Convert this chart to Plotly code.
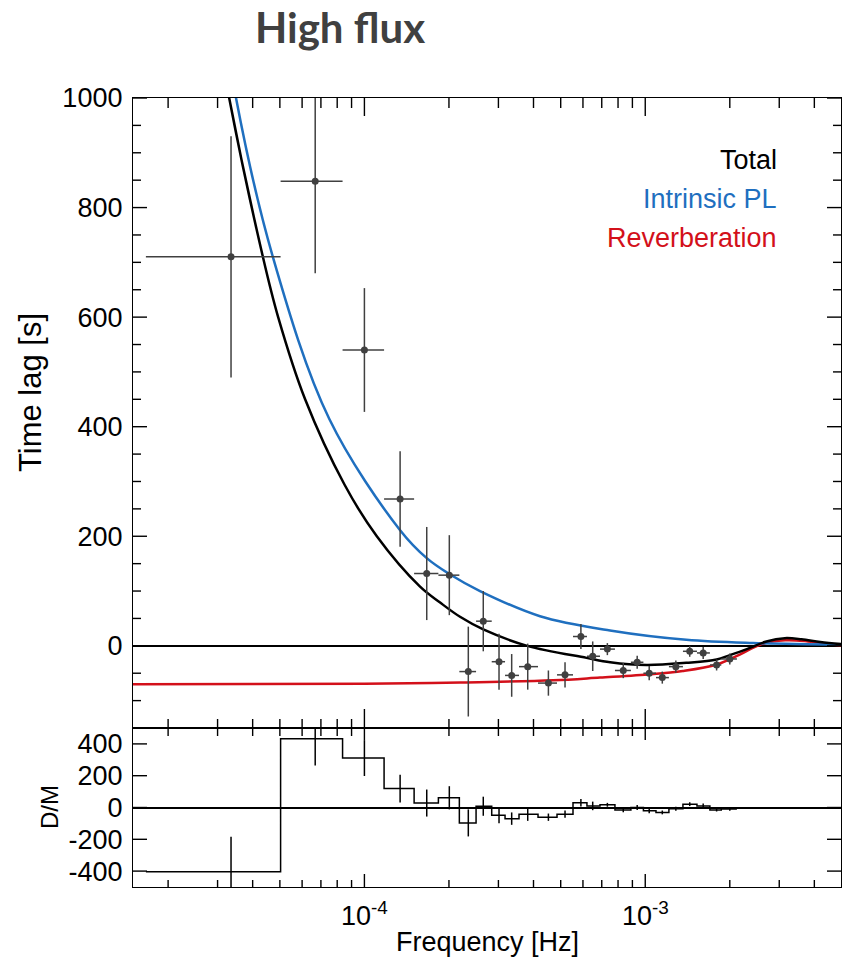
import math
import plotly.graph_objects as go

# ---- measured lag-frequency spectrum (high-flux segment) ----
freq = [3.35e-5, 6.68e-5, 1.0e-4, 1.34e-4, 1.667e-4, 2.006e-4, 2.344e-4, 2.65e-4,
        3.015e-4, 3.345e-4, 3.815e-4, 4.52e-4, 5.18e-4, 5.9e-4, 6.5e-4, 7.33e-4,
        8.35e-4, 9.36e-4, 1.033e-3, 1.15e-3, 1.285e-3, 1.44e-3, 1.608e-3, 1.795e-3, 2.0e-3]
lag = [710, 848, 540, 268, 132, 129, -47, 45, -29, -54, -38, -68, -53, 17, -19, -6,
       -45, -30, -50, -58, -38, -10, -13, -35, -24]
lag_err = [220, 168, 113, 87, 85, 73, 82, 55, 51, 39, 42, 23, 23, 23, 27, 11,
           14, 12, 13, 11, 11, 10, 11, 10, 10]
# frequency bin edges (one more than the number of points)
bin_edges = [1.667e-5, 5.03e-5, 8.36e-5, 1.175e-4, 1.503e-4, 1.834e-4, 2.178e-4, 2.498e-4,
             2.84e-4, 3.168e-4, 3.552e-4, 4.151e-4, 4.851e-4, 5.53e-4, 6.2e-4, 6.9e-4,
             7.8e-4, 8.89e-4, 9.85e-4, 1.092e-3, 1.214e-3, 1.362e-3, 1.528e-3, 1.699e-3,
             1.865e-3, 2.12e-3]

# ---- data minus model ----
resid = [-404, 432, 311, 119, 28, 61, -97, 8, -48, -70, -42, -61, -42, 30, 10, 17,
         -15, 0, -21, -31, -8, 21, 10, -15, -10]
resid_err = [220, 168, 113, 87, 85, 73, 85, 60, 51, 39, 42, 23, 23, 23, 27, 12,
             15, 15, 15, 12, 12, 12, 15, 10, 10]

# ---- model components ----
total_f = [3.0e-5, 3.3e-5, 4.35e-5, 4.93e-5, 6.15e-5, 8.5e-5, 1.107e-4, 1.578e-4, 1.86e-4,
           2.19e-4, 2.65e-4, 3.8e-4, 6.18e-4, 7.5e-4, 1.01e-3, 1.4e-3, 1.795e-3, 2.0e-3,
           2.3e-3, 2.7e-3, 3.14e-3, 3.6e-3, 4.2e-3, 5.0e-3]
total_lag = [1125, 1000, 710, 600, 450, 294, 200, 108, 79, 53, 30, 0, -22, -30, -35, -31,
             -25, -17, -6, 8, 14, 12, 7, 3]
pl_f = [3.2e-5, 3.49e-5, 4.72e-5, 7.5e-5, 1.34e-4, 1.667e-4, 2.006e-4, 2.58e-4, 4.22e-4,
        7.49e-4, 1.4e-3, 2.42e-3, 5.0e-3]
pl_lag = [1130, 1000, 710, 414, 211, 160, 131, 100, 54, 28, 11, 5, 2]
rev_f = [1.5e-5, 1.0e-4, 2.2e-4, 4.7e-4, 6.9e-4, 1.05e-3, 1.36e-3, 1.8e-3, 2.17e-3,
         2.56e-3, 3.15e-3, 3.8e-3, 5.0e-3]
rev_lag = [-70, -69, -67, -63, -58, -52, -46, -34, -16, 2, 10, 8, 0]

decade_ticks = [1e-4, 1e-3]
decade_labels = ["10<sup>-4</sup>", "10<sup>-3</sup>"]
lag_ticks = [0, 200, 400, 600, 800, 1000]
lag_minor = [-100, -50, 50, 100, 150, 250, 300, 350, 450, 500, 550, 650, 700, 750, 850, 900, 950]
dm_ticks = [-400, -200, 0, 200, 400]
dm_labels = ["-400", "-200", "0", "200", "400"]
freq_minor = [2e-5, 3e-5, 4e-5, 5e-5, 6e-5, 7e-5, 8e-5, 9e-5,
              2e-4, 3e-4, 4e-4, 5e-4, 6e-4, 7e-4, 8e-4, 9e-4,
              2e-3, 3e-3, 4e-3]

x_lo = [freq[i] - bin_edges[i] for i in range(len(freq))]
x_hi = [bin_edges[i + 1] - freq[i] for i in range(len(freq))]

SANS = "Liberation Sans, Arial, Helvetica, sans-serif"
TICK_FONT = dict(family=SANS, size=27, color="black")
DATA_COL = "#404040"
BLUE = "#1f6fbf"
RED = "#d3101a"

# plot-area geometry (pixels)
PLOT_W = 846 - 133 - 5
PLOT_H = 958 - 98 - 71
LOWER_H = 159
split = LOWER_H / PLOT_H

fig = go.Figure()

fig.add_trace(go.Scatter(x=rev_f, y=rev_lag, mode="lines", line=dict(color=RED, width=2.5, shape="spline"),
                         xaxis="x", yaxis="y", showlegend=False, hoverinfo="skip"))
fig.add_trace(go.Scatter(x=pl_f, y=pl_lag, mode="lines", line=dict(color=BLUE, width=2.5, shape="spline"),
                         xaxis="x", yaxis="y", showlegend=False, hoverinfo="skip"))
fig.add_trace(go.Scatter(x=total_f, y=total_lag, mode="lines", line=dict(color="black", width=2.5, shape="spline"),
                         xaxis="x", yaxis="y", showlegend=False, hoverinfo="skip"))

fig.add_trace(go.Scatter(
    x=freq, y=lag, mode="markers",
    marker=dict(color=DATA_COL, size=7),
    error_y=dict(type="data", array=lag_err, color=DATA_COL, thickness=1.5, width=0),
    error_x=dict(type="data", array=x_hi, arrayminus=x_lo, color=DATA_COL, thickness=1.5, width=0),
    xaxis="x", yaxis="y", showlegend=False))

# residual histogram
fig.add_trace(go.Scatter(x=bin_edges, y=resid + [resid[-1]], mode="lines",
                         line=dict(color="black", width=1.5, shape="hv"),
                         xaxis="x2", yaxis="y2", showlegend=False, hoverinfo="skip"))
fig.add_trace(go.Scatter(x=freq, y=resid, mode="markers",
                         marker=dict(size=1, color="rgba(0,0,0,0)"),
                         error_y=dict(type="data", array=resid_err, color="black", thickness=1.5, width=0),
                         xaxis="x2", yaxis="y2", showlegend=False))

xrange_log = [-4.824, -2.303]
frame = dict(showline=True, linecolor="black", linewidth=1.3, mirror=True,
             ticks="", showgrid=False)

fig.update_layout(
    width=846, height=958,
    margin=dict(l=133, r=5, t=98, b=71),
    paper_bgcolor="white", plot_bgcolor="white",
    title=dict(text="<b>High flux</b>", x=340 / 846, xref="container", xanchor="center",
               y=1 - 28 / 958, yref="container", yanchor="middle",
               font=dict(family="Lato, Open Sans, sans-serif", size=42, color="#404040")),
    xaxis=dict(frame, type="log", range=xrange_log, anchor="y", domain=[0, 1],
               tickvals=decade_ticks, showticklabels=False, zeroline=False),
    xaxis2=dict(frame, type="log", range=xrange_log, anchor="y2", domain=[0, 1],
                tickvals=decade_ticks, showticklabels=False, zeroline=False),
    yaxis=dict(frame, range=[-150, 1000], domain=[split, 1], anchor="x",
               tickmode="array", tickvals=lag_ticks, tickfont=TICK_FONT, ticklabelstandoff=4,
               zeroline=True, zerolinecolor="black", zerolinewidth=1.5),
    yaxis2=dict(frame, range=[-500, 500], domain=[0, split], anchor="x2",
                tickmode="array", tickvals=dm_ticks, ticktext=dm_labels, tickfont=TICK_FONT,
                ticklabelstandoff=4,
                zeroline=True, zerolinecolor="black", zerolinewidth=1.5),
)

# ---- inward tick marks on all four sides of both panels ----
TICK_LINE = dict(color="black", width=1.4)


def ytick(yref, val, length):
    for x0, x1 in ((0, length / PLOT_W), (1 - length / PLOT_W, 1)):
        fig.add_shape(type="line", xref="paper", yref=yref, x0=x0, x1=x1, y0=val, y1=val,
                      line=TICK_LINE, layer="above")


def xtick(xref, val, y_edge, length, direction):
    # shape positions on a log axis are given in data units
    fig.add_shape(type="line", xref=xref, yref="paper", x0=val, x1=val,
                  y0=y_edge, y1=y_edge + direction * length / PLOT_H,
                  line=TICK_LINE, layer="above")


for v in lag_ticks:
    ytick("y", v, 14)
for v in lag_minor:
    ytick("y", v, 8)
for v in dm_ticks:
    ytick("y2", v, 14)

for v in decade_ticks:
    xtick("x", v, 1, 18, -1)          # main panel, top
    xtick("x", v, split, 19, +1)      # main panel, bottom
    xtick("x2", v, split, 12, -1)     # residual panel, top
    xtick("x2", v, 0, 13, +1)         # residual panel, bottom
for v in freq_minor:
    xtick("x", v, 1, 10, -1)
    xtick("x", v, split, 9, +1)
    xtick("x2", v, split, 8, -1)
    xtick("x2", v, 0, 7, +1)

# decade labels under the lower panel (annotation x on a log axis is log10)
for v, txt in zip(decade_ticks, decade_labels):
    fig.add_annotation(text=txt, xref="x2", yref="paper", x=math.log10(v),
                       y=(887 - 914) / PLOT_H, xanchor="center", yanchor="middle",
                       showarrow=False, font=TICK_FONT)

label_font = dict(family=SANS, size=27, color="black")
fig.add_annotation(text="Time lag [s]", textangle=-90, xref="paper", yref="paper",
                   x=-103 / PLOT_W, y=(887 - 393) / PLOT_H, xanchor="center", yanchor="middle",
                   showarrow=False, font=dict(label_font, size=31))
fig.add_annotation(text="D/M", textangle=-90, xref="paper", yref="paper",
                   x=-84 / PLOT_W, y=(887 - 807) / PLOT_H, xanchor="center", yanchor="middle",
                   showarrow=False, font=dict(label_font, size=24))
fig.add_annotation(text="Frequency [Hz]", xref="paper", yref="paper",
                   x=0.5, y=(887 - 942) / PLOT_H, xanchor="center", yanchor="middle",
                   showarrow=False, font=label_font)

legend_items = [("Total", "black", 160), ("Intrinsic PL", BLUE, 199), ("Reverberation", RED, 238)]
for txt, col, ypx in legend_items:
    fig.add_annotation(text=txt, xref="paper", yref="paper",
                       x=(779 - 133) / PLOT_W, y=(887 - ypx) / PLOT_H, xanchor="right", yanchor="middle",
                       showarrow=False, font=dict(family=SANS, size=27, color=col))

fig.write_html("out.html")
